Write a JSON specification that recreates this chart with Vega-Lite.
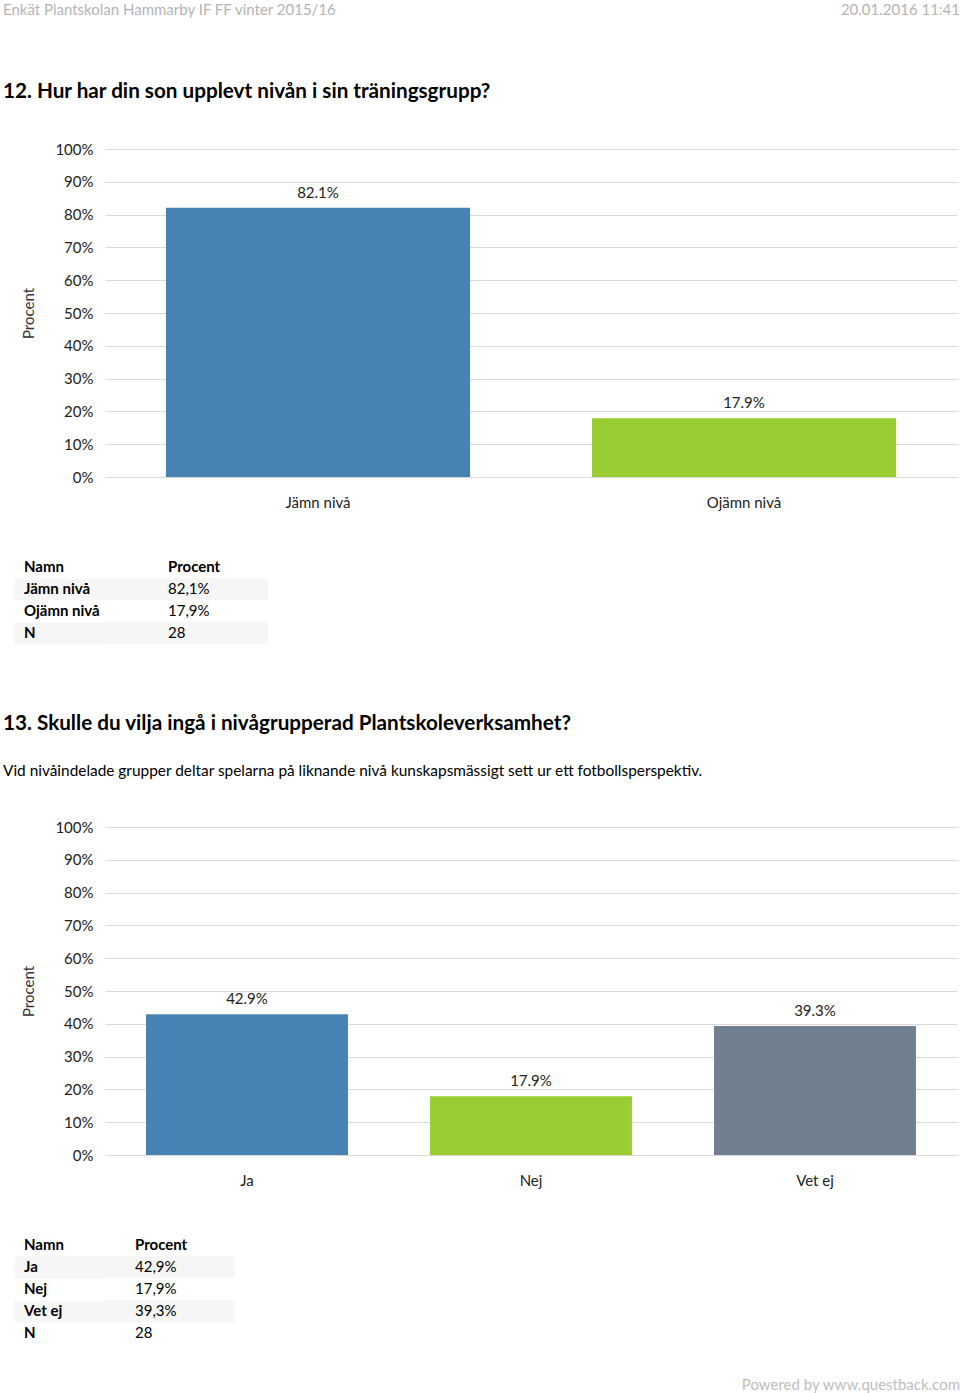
{
  "$schema": "https://vega.github.io/schema/vega-lite/v6.json",
  "padding": {"left": 3, "top": 0, "right": 0, "bottom": 0},
  "spacing": 46,
  "background": "white",
  "resolve": {"scale": {"color": "independent", "x": "independent", "y": "independent"}},
  "config": {
    "font": "Lato",
    "view": {"stroke": null},
    "axis": {"labelFont": "Lato", "titleFont": "Lato"},
    "title": {"font": "Lato", "subtitleFont": "Lato"}
  },
  "title": {
    "text": "Powered by www.questback.com",
    "orient": "bottom",
    "anchor": "end",
    "offset": 34,
    "fontSize": 15,
    "fontWeight": "normal",
    "color": "#bdbdbd"
  },
  "vconcat": [
    {
      "width": 855,
      "height": 35,
      "data": {"values": [
        {"sida": "vänster", "text": "Enkät Plantskolan Hammarby IF FF vinter 2015/16"},
        {"sida": "höger", "text": "20.01.2016 11:41"}
      ]},
      "encoding": {
        "x": {"field": "sida", "type": "nominal", "scale": {"type": "point", "domain": ["vänster", "höger"], "range": [-102, 855], "padding": 0}, "axis": null},
        "text": {"field": "text"}
      },
      "layer": [
        {"transform": [{"filter": "datum.sida == 'vänster'"}], "mark": {"type": "text", "align": "left", "baseline": "middle", "dy": -7.5, "fontSize": 15, "color": "#b4b4b4"}},
        {"transform": [{"filter": "datum.sida == 'höger'"}], "mark": {"type": "text", "align": "right", "baseline": "middle", "dy": -7.5, "fontSize": 15, "color": "#b4b4b4"}}
      ]
    },
    {
      "width": 852,
      "height": 328,
      "title": {"text": "12. Hur har din son upplevt nivån i sin träningsgrupp?", "anchor": "start", "frame": "group", "dx": -102, "offset": 39, "fontSize": 20.7, "fontWeight": "bold", "color": "#000000"},
      "data": {"values": [{"Namn": "Jämn nivå", "Andel": 0.821}, {"Namn": "Ojämn nivå", "Andel": 0.179}]},
      "encoding": {
        "x": {"field": "Namn", "type": "nominal", "sort": null, "scale": {"paddingInner": 0.286, "paddingOuter": 0.143},
          "axis": {"title": null, "labelAngle": 0, "domain": false, "ticks": false, "labelPadding": 18, "labelFontSize": 15, "labelColor": "#222222"}},
        "y": {"field": "Andel", "type": "quantitative", "scale": {"domain": [0, 1]},
          "axis": {"title": "Procent", "values": [0, 0.1, 0.2, 0.3, 0.4, 0.5, 0.6, 0.7, 0.8, 0.9, 1], "format": ".0%", "domain": false, "ticks": false, "labelPadding": 12, "labelFontSize": 15, "labelColor": "#222222", "gridColor": "#d9d9d9", "gridWidth": 1.2, "titleFontSize": 15, "titleFontWeight": "normal", "titleColor": "#333333", "titlePadding": 18}}
      },
      "layer": [
        {"mark": {"type": "bar"}, "encoding": {"color": {"field": "Namn", "type": "nominal", "scale": {"domain": ["Jämn nivå", "Ojämn nivå"], "range": ["#4682b4", "#9acd32"]}, "legend": null}}},
        {"mark": {"type": "text", "baseline": "bottom", "dy": -7, "fontSize": 15, "color": "#222222"}, "encoding": {"text": {"field": "Andel", "format": ".1%"}}}
      ]
    },
    {
      "width": 163,
      "height": 110,
      "data": {"values": [
        {"Namn": "Namn", "Procent": "Procent"},
        {"Namn": "Jämn nivå", "Procent": "82,1%"},
        {"Namn": "Ojämn nivå", "Procent": "17,9%"},
        {"Namn": "N", "Procent": "28"}
      ]},
      "transform": [{"window": [{"op": "row_number", "as": "rad"}]}],
      "encoding": {"y": {"field": "Namn", "type": "nominal", "sort": null,
        "scale": {"domain": ["Namn", "Jämn nivå", "Ojämn nivå", "N"], "paddingInner": 0, "paddingOuter": 0.5, "align": 0},
        "axis": {"title": null, "labels": false, "domain": false, "grid": false, "ticks": true, "tickSize": 91, "tickWidth": 22, "tickColor": {"condition": {"test": "indexof(['Jämn nivå', 'N'], datum.value) >= 0", "value": "#f6f6f6"}, "value": "transparent"}}}},
      "layer": [
        {"transform": [{"filter": "datum.rad % 2 == 0"}], "mark": {"type": "bar", "color": "#f6f6f6"}},
        {"transform": [{"fold": ["Namn", "Procent"], "as": ["kolumn", "varde"]}, {"filter": "datum.kolumn == 'Namn' || datum.rad == 1"}],
          "mark": {"type": "text", "align": "left", "fontWeight": "bold", "fontSize": 15, "color": "#000000"},
          "encoding": {"x": {"field": "kolumn", "type": "nominal", "scale": {"type": "point", "domain": ["Namn", "Procent"], "range": [-81, 63], "padding": 0}, "axis": null}, "text": {"field": "varde"}}},
        {"transform": [{"fold": ["Namn", "Procent"], "as": ["kolumn", "varde"]}, {"filter": "datum.kolumn != 'Namn' && datum.rad != 1"}],
          "mark": {"type": "text", "align": "left", "fontWeight": "normal", "fontSize": 15, "color": "#000000"},
          "encoding": {"x": {"field": "kolumn", "type": "nominal", "scale": {"type": "point", "domain": ["Namn", "Procent"], "range": [-81, 63], "padding": 0}, "axis": null}, "text": {"field": "varde"}}}
      ]
    },
    {
      "width": 852,
      "height": 328,
      "title": {"text": "13. Skulle du vilja ingå i nivågrupperad Plantskoleverksamhet?", "subtitle": "Vid nivåindelade grupper deltar spelarna på liknande nivå kunskapsmässigt sett ur ett fotbollsperspektiv.", "anchor": "start", "frame": "group", "dx": -102, "offset": 40, "fontSize": 20.7, "fontWeight": "bold", "color": "#000000", "subtitleFontSize": 15.4, "subtitleColor": "#000000", "subtitlePadding": 29},
      "data": {"values": [{"Namn": "Ja", "Andel": 0.429}, {"Namn": "Nej", "Andel": 0.179}, {"Namn": "Vet ej", "Andel": 0.393}]},
      "encoding": {
        "x": {"field": "Namn", "type": "nominal", "sort": null, "scale": {"paddingInner": 0.289, "paddingOuter": 0.1445},
          "axis": {"title": null, "labelAngle": 0, "domain": false, "ticks": false, "labelPadding": 18, "labelFontSize": 15, "labelColor": "#222222"}},
        "y": {"field": "Andel", "type": "quantitative", "scale": {"domain": [0, 1]},
          "axis": {"title": "Procent", "values": [0, 0.1, 0.2, 0.3, 0.4, 0.5, 0.6, 0.7, 0.8, 0.9, 1], "format": ".0%", "domain": false, "ticks": false, "labelPadding": 12, "labelFontSize": 15, "labelColor": "#222222", "gridColor": "#d9d9d9", "gridWidth": 1.2, "titleFontSize": 15, "titleFontWeight": "normal", "titleColor": "#333333", "titlePadding": 18}}
      },
      "layer": [
        {"mark": {"type": "bar"}, "encoding": {"color": {"field": "Namn", "type": "nominal", "scale": {"domain": ["Ja", "Nej", "Vet ej"], "range": ["#4682b4", "#9acd32", "#708090"]}, "legend": null}}},
        {"mark": {"type": "text", "baseline": "bottom", "dy": -7, "fontSize": 15, "color": "#222222"}, "encoding": {"text": {"field": "Andel", "format": ".1%"}}}
      ]
    },
    {
      "width": 130,
      "height": 110,
      "data": {"values": [
        {"Namn": "Namn", "Procent": "Procent"},
        {"Namn": "Ja", "Procent": "42,9%"},
        {"Namn": "Nej", "Procent": "17,9%"},
        {"Namn": "Vet ej", "Procent": "39,3%"},
        {"Namn": "N", "Procent": "28"}
      ]},
      "transform": [{"window": [{"op": "row_number", "as": "rad"}]}],
      "encoding": {"y": {"field": "Namn", "type": "nominal", "sort": null,
        "scale": {"domain": ["Namn", "Ja", "Nej", "Vet ej", "N"], "paddingInner": 0, "paddingOuter": 0},
        "axis": {"title": null, "labels": false, "domain": false, "grid": false, "ticks": true, "tickSize": 91, "tickWidth": 22, "tickColor": {"condition": {"test": "indexof(['Ja', 'Vet ej'], datum.value) >= 0", "value": "#f6f6f6"}, "value": "transparent"}}}},
      "layer": [
        {"transform": [{"filter": "datum.rad % 2 == 0"}], "mark": {"type": "bar", "color": "#f6f6f6"}},
        {"transform": [{"fold": ["Namn", "Procent"], "as": ["kolumn", "varde"]}, {"filter": "datum.kolumn == 'Namn' || datum.rad == 1"}],
          "mark": {"type": "text", "align": "left", "fontWeight": "bold", "fontSize": 15, "color": "#000000"},
          "encoding": {"x": {"field": "kolumn", "type": "nominal", "scale": {"type": "point", "domain": ["Namn", "Procent"], "range": [-81, 30], "padding": 0}, "axis": null}, "text": {"field": "varde"}}},
        {"transform": [{"fold": ["Namn", "Procent"], "as": ["kolumn", "varde"]}, {"filter": "datum.kolumn != 'Namn' && datum.rad != 1"}],
          "mark": {"type": "text", "align": "left", "fontWeight": "normal", "fontSize": 15, "color": "#000000"},
          "encoding": {"x": {"field": "kolumn", "type": "nominal", "scale": {"type": "point", "domain": ["Namn", "Procent"], "range": [-81, 30], "padding": 0}, "axis": null}, "text": {"field": "varde"}}}
      ]
    }
  ]
}
